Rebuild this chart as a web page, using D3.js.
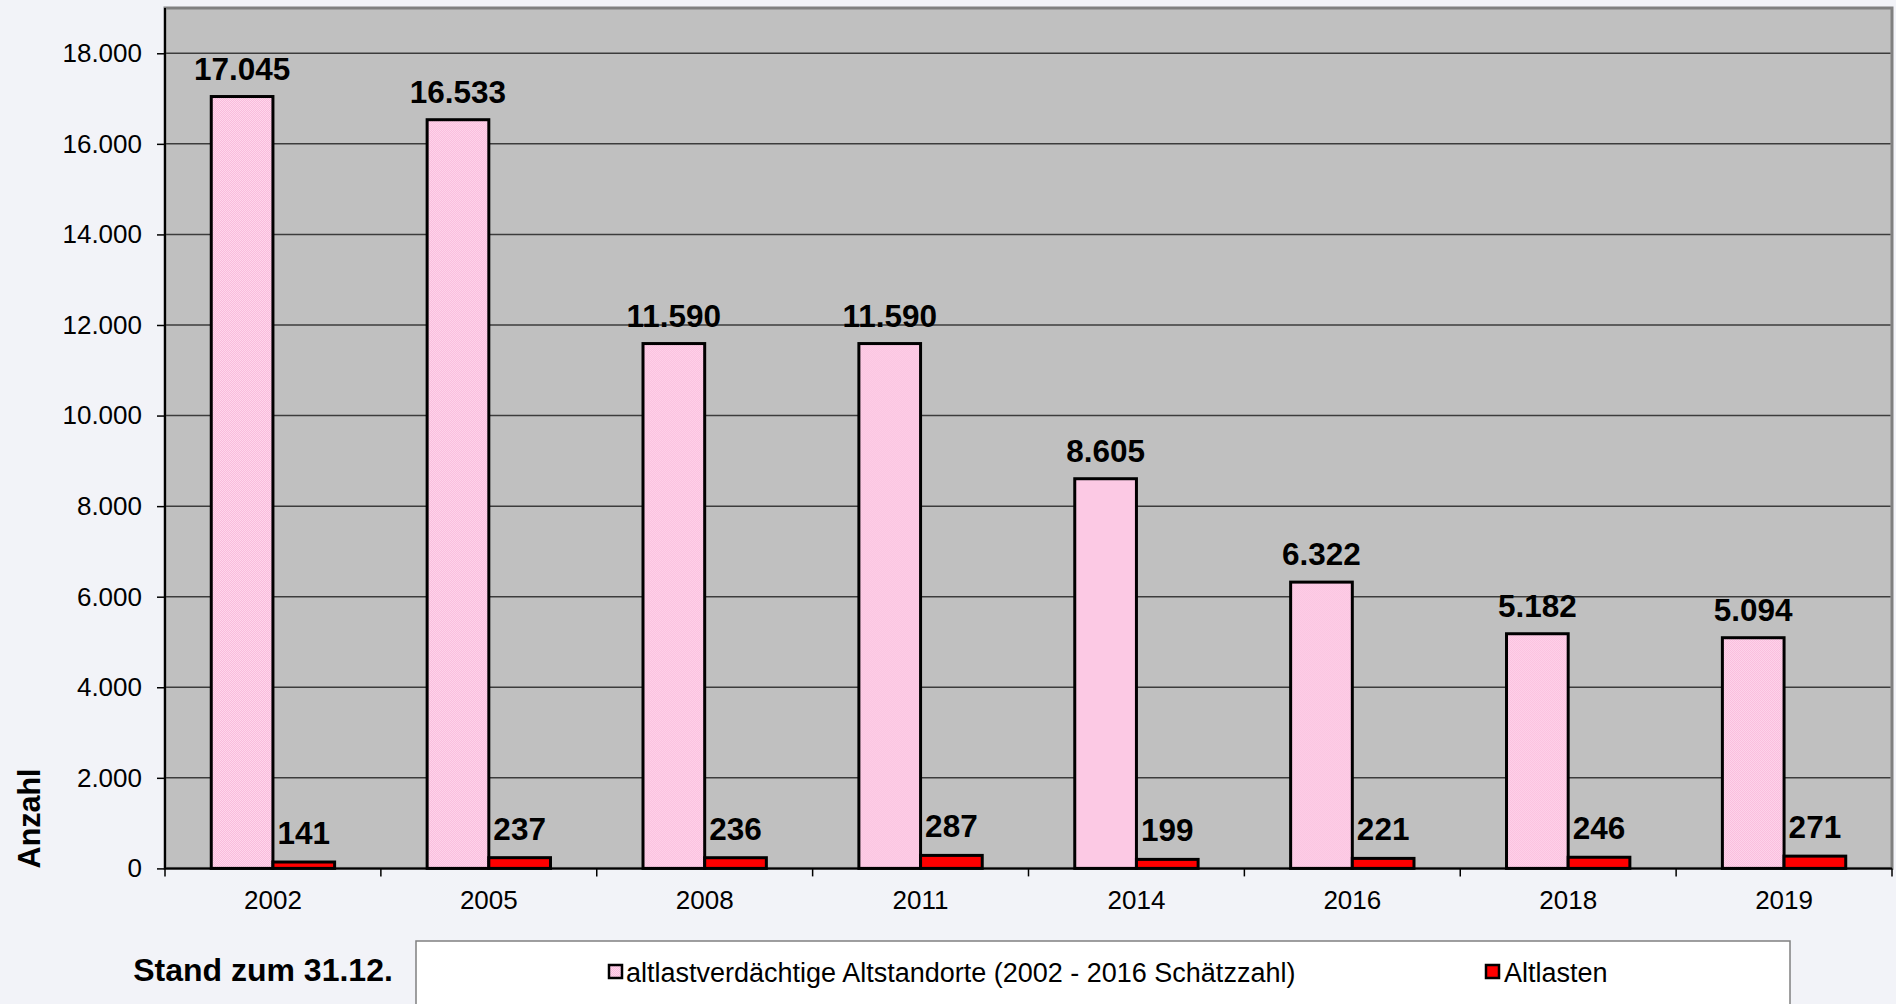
<!DOCTYPE html>
<html><head><meta charset="utf-8">
<script src="https://cdn.jsdelivr.net/npm/d3@7/dist/d3.min.js"></script>
<style>
html,body{margin:0;padding:0;background:#f2f3f8;}
svg{display:block;font-family:"Liberation Sans",Arial,sans-serif;}
</style></head>
<body>
<svg id="chart" width="1896" height="1004"></svg>
<script>
const categories = ["2002","2005","2008","2011","2014","2016","2018","2019"];
const seriesNames = ["altlastverdächtige Altstandorte (2002 - 2016 Schätzzahl)","Altlasten"];
const altstandorte = [17045,16533,11590,11590,8605,6322,5182,5094];
const altlasten = [141,237,236,287,199,221,246,271];
const yTicks = [0,2000,4000,6000,8000,10000,12000,14000,16000,18000];
const yTitle = "Anzahl";
const xTitle = "Stand zum 31.12.";

const loc = d3.formatLocale({decimal:",",thousands:".",grouping:[3],currency:["","€"]});
const fmt = loc.format(",d");

const svg = d3.select("#chart");
const plot = {left:165, right:1892, top:8, bottom:868.4};

const defs = svg.append("defs");
const pat = defs.append("pattern").attr("id","pinkdots").attr("patternUnits","userSpaceOnUse")
  .attr("width",2).attr("height",2);
pat.append("rect").attr("width",2).attr("height",2).attr("fill","#ffd6ec");
pat.append("rect").attr("width",1).attr("height",1).attr("fill","#f9bcdc");
pat.append("rect").attr("x",1).attr("y",1).attr("width",1).attr("height",1).attr("fill","#f9bcdc");

const x0 = d3.scaleBand().domain(categories).range([plot.left, plot.right]).paddingInner(0).paddingOuter(0);
const x1 = d3.scaleBand().domain([0,1]).range([0, x0.bandwidth()]).paddingInner(0).paddingOuter(0.75);
const y = d3.scaleLinear().domain([0,19000]).range([plot.bottom, plot.top]);

svg.append("rect").attr("x",plot.left).attr("y",plot.top)
  .attr("width",plot.right-plot.left).attr("height",plot.bottom-plot.top)
  .attr("fill","#c0c0c0").attr("stroke","#808080").attr("stroke-width",3);

svg.append("g").selectAll("line").data(yTicks.filter(d=>d>0)).join("line")
  .attr("x1",plot.left).attr("x2",plot.right-1.5)
  .attr("y1",d=>y(d)).attr("y2",d=>y(d))
  .attr("stroke","#3c3c3c").attr("stroke-width",1.5);

const yAxis = svg.append("g").attr("transform",`translate(${plot.left},0)`)
  .call(d3.axisLeft(y).tickValues(yTicks).tickFormat(fmt).tickSize(8).tickPadding(15));
yAxis.select(".domain").attr("stroke","#000").attr("stroke-width",2).attr("d",`M0,${plot.top}V${plot.bottom}`);
yAxis.selectAll(".tick line").attr("stroke","#000").attr("stroke-width",1.5);
yAxis.selectAll(".tick text").attr("font-size",26).attr("fill","#000")
  .attr("font-family","Liberation Sans, Arial, sans-serif");

const xAxis = svg.append("g").attr("transform",`translate(0,${plot.bottom})`)
  .call(d3.axisBottom(x0).tickSize(0).tickPadding(22));
xAxis.select(".domain").remove();
xAxis.selectAll(".tick text").attr("font-size",26).attr("fill","#000")
  .attr("font-family","Liberation Sans, Arial, sans-serif");
const bounds = categories.map(c=>x0(c)).concat([x0(categories[categories.length-1])+x0.bandwidth()]);
svg.append("g").selectAll("line").data(bounds).join("line")
  .attr("x1",d=>d).attr("x2",d=>d).attr("y1",plot.bottom).attr("y2",plot.bottom+8)
  .attr("stroke","#000").attr("stroke-width",1.5);

const groups = svg.append("g").selectAll("g").data(categories).join("g")
  .attr("transform",c=>`translate(${x0(c)},0)`);
const fills = ["url(#pinkdots)","#ff0000"];
const vals = [altstandorte, altlasten];
groups.each(function(c,i){
  const g = d3.select(this);
  [0,1].forEach(s=>{
    const v = vals[s][i];
    g.append("rect").attr("x",x1(s)).attr("width",x1.bandwidth())
      .attr("y",y(v)).attr("height",y(0)-y(v))
      .attr("fill",fills[s]).attr("stroke","#000").attr("stroke-width",3);
  });
});

svg.append("line").attr("x1",plot.left).attr("x2",plot.right).attr("y1",plot.bottom).attr("y2",plot.bottom)
  .attr("stroke","#000").attr("stroke-width",2);

groups.each(function(c,i){
  const g = d3.select(this);
  [0,1].forEach(s=>{
    const v = vals[s][i];
    g.append("text").attr("x",x1(s)+x1.bandwidth()/2).attr("y",y(v)-(s===0?17:18))
      .attr("text-anchor","middle").attr("font-size",31.5).attr("font-weight","bold")
      .attr("fill","#000").text(fmt(v));
  });
});

svg.append("text").attr("transform",`translate(40,${plot.bottom}) rotate(-90)`)
  .attr("text-anchor","start").attr("font-size",30.5).attr("font-weight","bold").text(yTitle);

svg.append("text").attr("x",263).attr("y",981).attr("text-anchor","middle")
  .attr("font-size",32).attr("font-weight","bold").text(xTitle);

svg.append("rect").attr("x",416).attr("y",941).attr("width",1790-416).attr("height",80)
  .attr("fill","#fff").attr("stroke","#808080").attr("stroke-width",1.5);
const leg = [{x:608,tx:626},{x:1485,tx:1504}];
seriesNames.forEach((n,i)=>{
  svg.append("rect").attr("x",leg[i].x+1).attr("y",965).attr("width",13).attr("height",13)
    .attr("fill",fills[i]).attr("stroke","#000").attr("stroke-width",2.5);
  svg.append("text").attr("x",leg[i].tx).attr("y",982).attr("font-size",27)
    .attr("fill","#000").text(n);
});
</script>
</body></html>
